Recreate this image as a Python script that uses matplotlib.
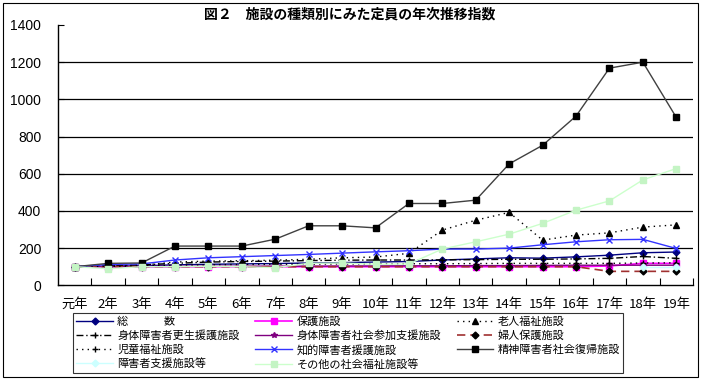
import numpy as np
import matplotlib
matplotlib.use("Agg")
import matplotlib.pyplot as plt
from matplotlib.patches import Rectangle

plt.rcParams['font.family'] = ['Noto Sans CJK JP', 'DejaVu Sans']

years = ['元年', '2年', '3年', '4年', '5年', '6年', '7年', '8年', '9年', '10年',
         '11年', '12年', '13年', '14年', '15年', '16年', '17年', '18年', '19年']
nan = np.nan
total       = [100, 103, 105, 110, 113, 115, 117, 120, 122, 125, 128, 136, 142, 148, 146, 153, 162, 175, 179]
hogo        = [100, 100, 100, 100, 100, 100, 100, 100, 100, 100, 100, 100, 100, 100, 100, 100, 104, 118, 118]
rojin       = [100, 106, 108, 125, 130, 132, 135, 140, 148, 152, 172, 297, 350, 392, 243, 270, 282, 313, 325]
shintai_k   = [100, 105, 110, 118, 125, 128, 130, 133, 135, 136, 136, 137, 138, 140, 140, 142, 145, 155, 145]
shintai_s   = [100, 100, 101, 101, 102, 102, 103, 103, 104, 104, 105, 105, 106, 106, 107, 108, 108, 108, 108]
fujin       = [100, 100, 100, 100, 100, 100, 100, 100, 100, 100, 100, 100, 100, 100, 100, 100, 75, 75, 75]
jido        = [100, 102, 104, 108, 110, 112, 113, 114, 115, 115, 116, 116, 117, 118, 118, 118, 118, 120, 121]
chiteki     = [100, 112, 115, 136, 148, 154, 160, 166, 173, 180, 186, 195, 195, 200, 218, 234, 245, 247, 198]
seishin     = [100, 118, 120, 211, 211, 211, 248, 320, 320, 309, 440, 440, 458, 653, 753, 910, 1168, 1200, 903]
shien       = [nan, nan, nan, nan, nan, nan, nan, nan, nan, nan, nan, nan, nan, nan, nan, nan, nan, 100, 100]
sonota      = [100, 89, 100, 100, 102, 100, 95, 118, 120, 113, 115, 195, 234, 275, 333, 404, 454, 567, 628]

fig = plt.figure(figsize=(7.02, 3.81), dpi=100)
ax = fig.add_axes([58/702, 1-285.3/381, (693-58)/702, (285.3-25)/381])
x = np.arange(len(years))

h = {}
h['総　　　 数'] = ax.plot(x, total, color='#000080', lw=1, marker='D', ms=3.5, mfc='#000080', mec='#000080')[0]
h['保護施設'] = ax.plot(x, hogo, color='#FF00FF', lw=1.2, marker='s', ms=4, mfc='#FF00FF', mec='#FF00FF')[0]
h['老人福祉施設'] = ax.plot(x, rojin, color='#000000', lw=1, ls=(0, (1, 3)), marker='^', ms=5, mfc='black', mec='black')[0]
h['身体障害者更生援護施設'] = ax.plot(x, shintai_k, color='#000000', lw=1, ls=(0, (5, 2, 1, 2)), marker='+', ms=4, mec='black')[0]
h['身体障害者社会参加支援施設'] = ax.plot(x, shintai_s, color='#800080', lw=1, marker='*', ms=4, mfc='#800080', mec='#800080')[0]
h['婦人保護施設'] = ax.plot(x, fujin, color='#A03030', lw=1.2, ls=(0, (5, 3)), marker='D', ms=3.5, mfc='black', mec='black')[0]
h['児童福祉施設'] = ax.plot(x, jido, color='#000000', lw=1, ls=(0, (1, 3)), marker='+', ms=4, mec='black')[0]
h['知的障害者援護施設'] = ax.plot(x, chiteki, color='#3333FF', lw=1, marker='x', ms=4, mec='#3333FF')[0]
h['精神障害者社会復帰施設'] = ax.plot(x, seishin, color='#404040', lw=1, marker='s', ms=4.5, mfc='black', mec='black')[0]
h['障害者支援施設等'] = ax.plot(x, shien, color='#CCFFFF', lw=1, marker='D', ms=3.5, mfc='#CCFFFF', mec='#CCFFFF')[0]
h['その他の社会福祉施設等'] = ax.plot(x, sonota, color='#CCFFCC', lw=1, marker='s', ms=4.5, mfc='#C4F4C4', mec='#C4F4C4')[0]

ax.set_xlim(-0.5, len(years) - 0.5)
ax.set_ylim(0, 1400)
ax.set_yticks(np.arange(0, 1401, 200))
ax.set_yticklabels([str(v) for v in range(0, 1401, 200)], family='Liberation Sans', fontsize=10)
ax.set_xticks(x)
ax.set_xticklabels(years, fontsize=9.5)
ax.set_xticks(np.arange(0.5, len(years), 1), minor=True)
ax.tick_params(axis='x', which='major', length=0, pad=9)
ax.tick_params(axis='x', which='minor', direction='in', length=5, width=0.8)
ax.tick_params(axis='y', direction='in', length=4, width=0.8, pad=12)
for v in range(200, 1201, 200):
    ax.axhline(v, color='black', lw=0.9, zorder=0)
for s in ['top', 'right']:
    ax.spines[s].set_visible(False)
ax.spines['left'].set_linewidth(1)
ax.spines['bottom'].set_linewidth(1)

fig.text(350/702, 1-14/381, '図２　施設の種類別にみた定員の年次推移指数', ha='center', va='center',
         fontsize=10, fontweight='bold')

order = ['総　　　 数', '身体障害者更生援護施設', '児童福祉施設', '障害者支援施設等',
         '保護施設', '身体障害者社会参加支援施設', '知的障害者援護施設', 'その他の社会福祉施設等',
         '老人福祉施設', '婦人保護施設', '精神障害者社会復帰施設']
leg = fig.legend([h[k] for k in order], order, ncol=3, loc='upper left',
                 bbox_to_anchor=(73/702, 1-313/381), fontsize=8, frameon=True,
                 fancybox=False, edgecolor='black', handlelength=3.3, handletextpad=0.4,
                 columnspacing=1.4, labelspacing=0.3, borderpad=0.3, borderaxespad=0)
leg.get_frame().set_linewidth(0.8)

fig.patches.append(Rectangle((3/702, 4/381), 695/702, 374/381, transform=fig.transFigure,
                             fill=False, edgecolor='black', lw=0.8))

fig.savefig('out.png', dpi=100)
